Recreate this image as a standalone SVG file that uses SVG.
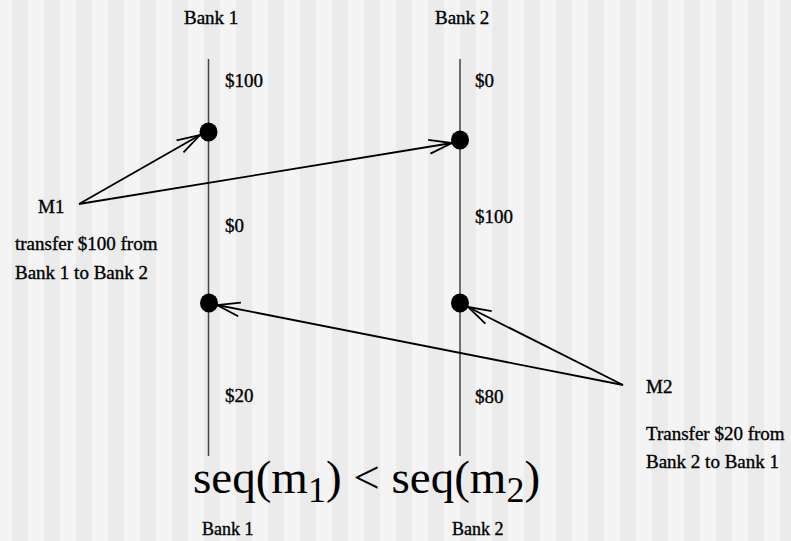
<svg xmlns="http://www.w3.org/2000/svg" width="791" height="541" viewBox="0 0 791 541">
<defs>
<pattern id="stripes" x="0" y="0" width="32" height="541" patternUnits="userSpaceOnUse">
<rect x="0" y="0" width="32" height="541" fill="#f4f4f4"/>
<rect x="12" y="0" width="16" height="541" fill="#ebebeb"/>
</pattern>
<marker id="arr" markerUnits="userSpaceOnUse" orient="auto" markerWidth="30" markerHeight="20" viewBox="-26 -10 30 20" refX="0" refY="0" overflow="visible">
<path d="M-23,-7 L0,0 L-23,7" fill="none" stroke="#000" stroke-width="1.8"/>
</marker>
</defs>
<style>
text{font-family:"Liberation Serif","Times New Roman",serif;fill:#000}
.lbl{font-size:19px;stroke:#000;stroke-width:0.35}
.bot{font-size:18px;stroke:#000;stroke-width:0.35}
.big{font-size:47px}
.life{stroke:#444;stroke-width:1.5}
.msg{stroke:#000;stroke-width:1.8;fill:none}
.dot{fill:#000}
</style>
<rect width="791" height="541" fill="url(#stripes)"/>
<g id="bank1">
<text class="lbl" x="184" y="24">Bank 1</text>
<line class="life" x1="208.5" y1="59" x2="208.5" y2="456"/>
<text class="lbl" x="225" y="87">$100</text>
<text class="lbl" x="225" y="232">$0</text>
<text class="lbl" x="225" y="402">$20</text>
<text class="bot" x="202" y="535">Bank 1</text>
</g>
<g id="bank2">
<text class="lbl" x="435" y="24">Bank 2</text>
<line class="life" x1="460" y1="59" x2="460" y2="456"/>
<text class="lbl" x="475" y="87">$0</text>
<text class="lbl" x="475" y="223">$100</text>
<text class="lbl" x="475" y="403">$80</text>
<text class="bot" x="452" y="535">Bank 2</text>
</g>
<g id="e1"><ellipse class="dot" cx="208.5" cy="132" rx="9" ry="9.5"/></g>
<g id="e2"><ellipse class="dot" cx="460" cy="140" rx="9" ry="9.5"/></g>
<g id="e3"><ellipse class="dot" cx="209" cy="303" rx="9" ry="9.5"/></g>
<g id="e4"><ellipse class="dot" cx="460" cy="303" rx="9" ry="9.5"/></g>
<g id="m1">
<text class="lbl" x="38" y="213">M1</text>
<text class="lbl" x="15" y="250">transfer $100 from</text>
<text class="lbl" x="15" y="279">Bank 1 to Bank 2</text>
</g>
<g id="m2">
<text class="lbl" x="646" y="393">M2</text>
<text class="lbl" x="646" y="440">Transfer $20 from</text>
<text class="lbl" x="646" y="468">Bank 2 to Bank 1</text>
</g>
<g id="connectors">
<line class="msg" x1="79" y1="204" x2="200" y2="135" marker-end="url(#arr)"/>
<line class="msg" x1="79" y1="204" x2="452" y2="143" marker-end="url(#arr)"/>
<line class="msg" x1="623" y1="385" x2="468" y2="307" marker-end="url(#arr)"/>
<line class="msg" x1="623" y1="385" x2="217" y2="305" marker-end="url(#arr)"/>
</g>
<g id="formula">
<text class="big" x="193" y="493">seq(m<tspan font-size="36px" dy="9">1</tspan><tspan dy="-9">) &lt; seq(m</tspan><tspan font-size="36px" dy="9">2</tspan><tspan dy="-9">)</tspan></text>
</g>
</svg>
